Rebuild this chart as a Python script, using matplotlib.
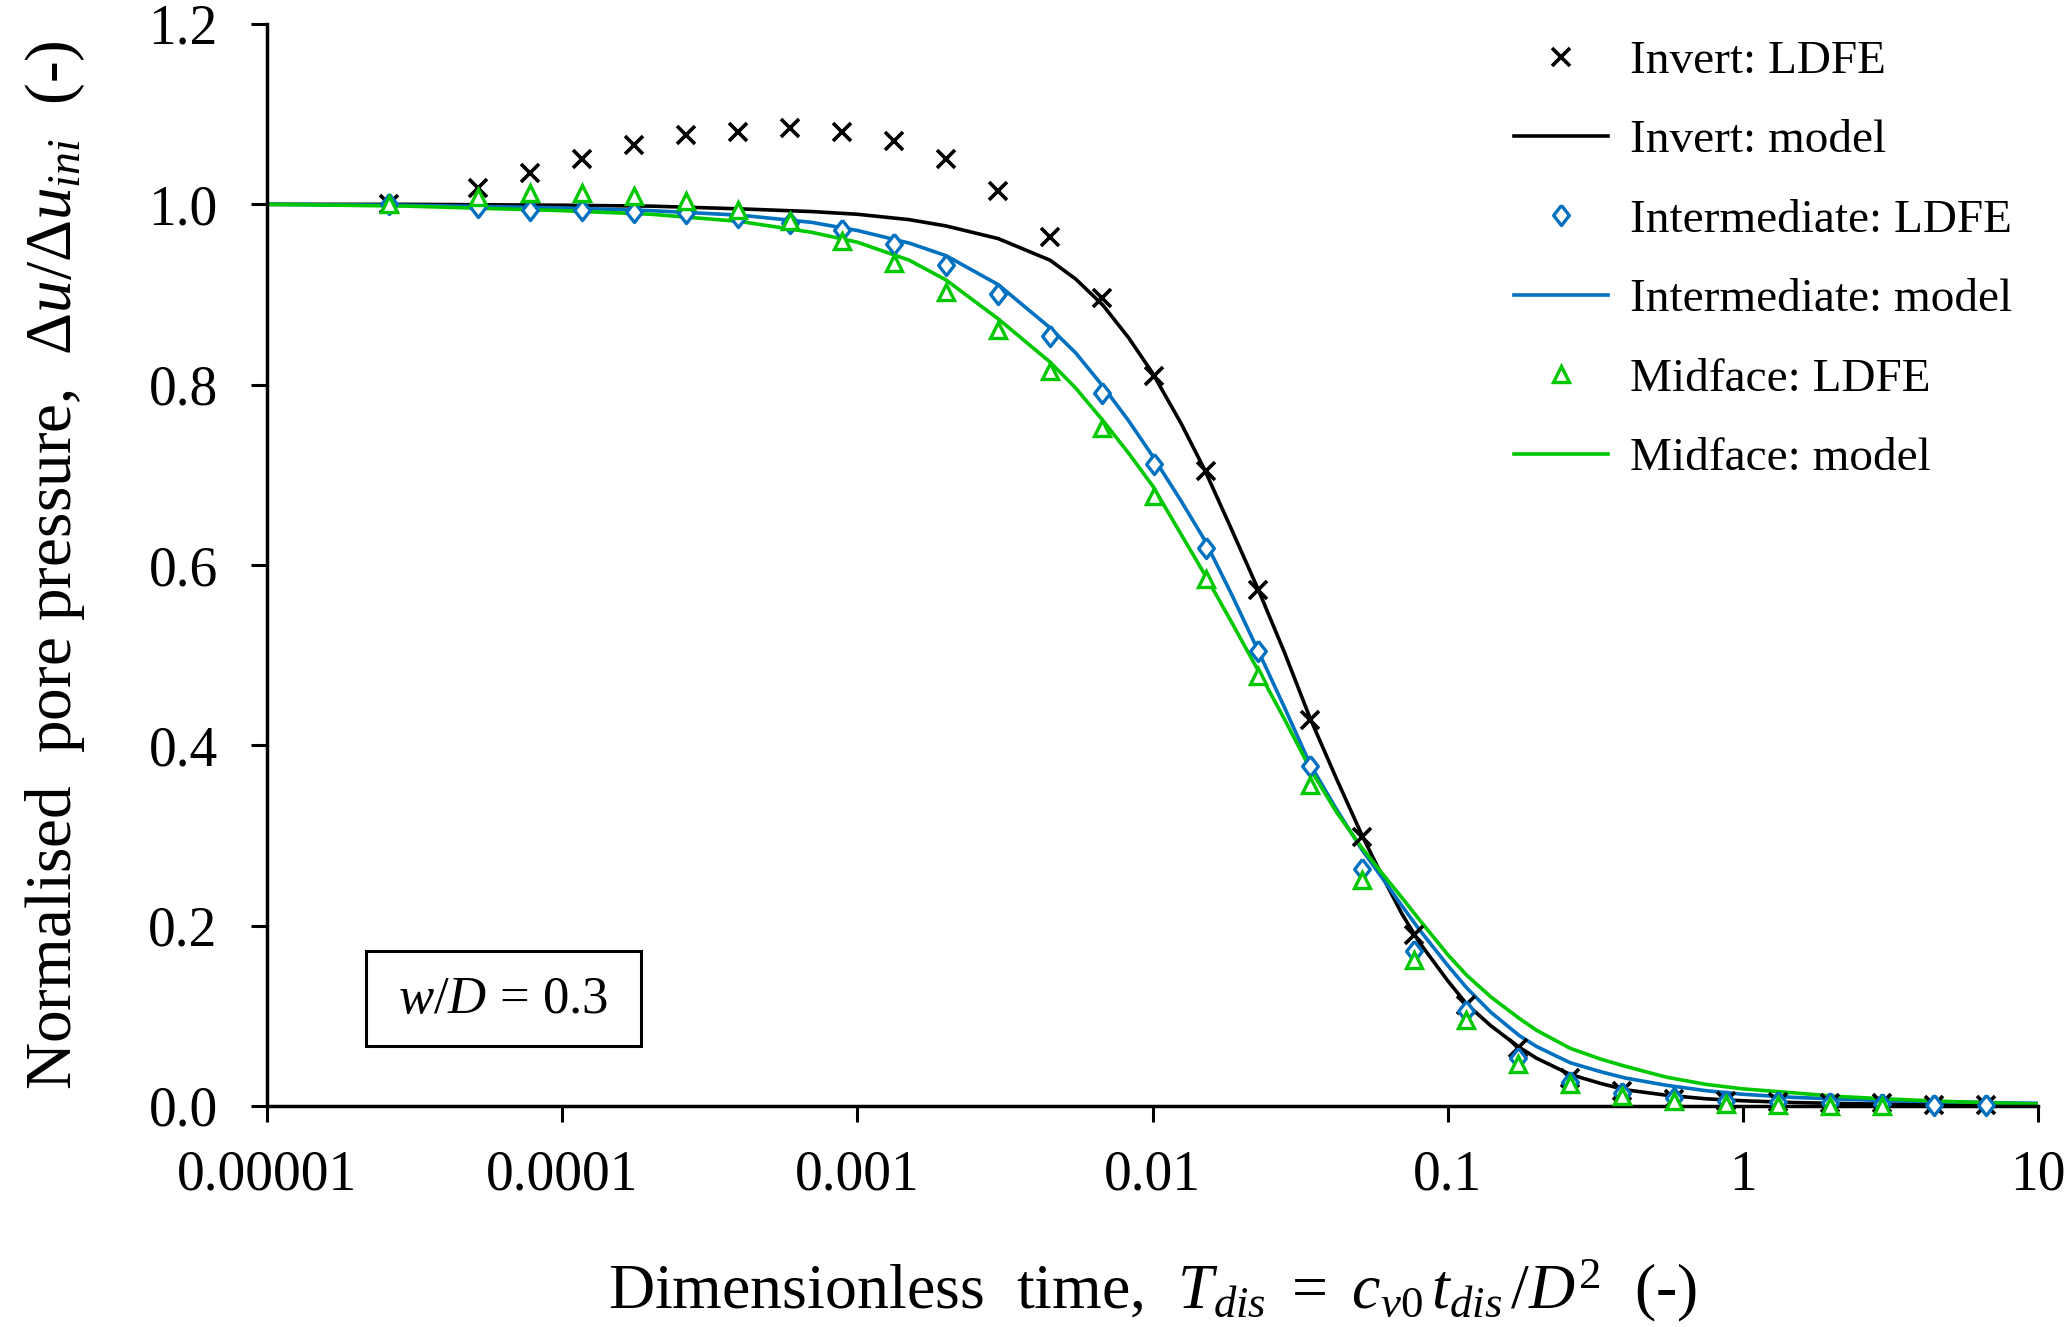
import matplotlib
matplotlib.use('Agg')
import matplotlib.pyplot as plt
from matplotlib.patches import Rectangle

plt.rcParams['font.family'] = ['Liberation Serif', 'DejaVu Serif']
plt.rcParams['mathtext.fontset'] = 'custom'
plt.rcParams['mathtext.rm'] = 'Liberation Serif'
plt.rcParams['mathtext.it'] = 'Liberation Serif:italic'

# LDFE results (dimensionless time, normalised excess pore pressure)
T_ldfe = [2.6e-5, 5.2e-5, 7.8e-5, 1.17e-4, 1.75e-4, 2.63e-4, 3.95e-4, 5.92e-4, 8.9e-4,
          1.33e-3, 2.0e-3, 3.0e-3, 4.5e-3, 6.75e-3, 0.0101, 0.0152, 0.0228, 0.0342,
          0.0513, 0.077, 0.1155, 0.173, 0.26, 0.39, 0.585, 0.877, 1.32, 1.97, 2.96,
          4.44, 6.66]
invert_ldfe = [1.000, 1.018, 1.035, 1.050, 1.066, 1.077, 1.080, 1.085, 1.080, 1.070,
               1.050, 1.015, 0.964, 0.896, 0.810, 0.704, 0.572, 0.428, 0.298, 0.190,
               0.112, 0.064, 0.031, 0.017, 0.008, 0.005, 0.004, 0.003, 0.003, 0.001,
               0.001]
inter_ldfe = [1.000, 0.997, 0.994, 0.994, 0.991, 0.990, 0.986, 0.979, 0.971, 0.956,
              0.933, 0.901, 0.854, 0.791, 0.712, 0.619, 0.505, 0.377, 0.263, 0.172,
              0.105, 0.053, 0.027, 0.014, 0.0085, 0.006, 0.0045, 0.003, 0.002, 0.001,
              0.001]
mid_ldfe = [1.000, 1.008, 1.013, 1.013, 1.009, 1.004, 0.994, 0.982, 0.959, 0.935,
            0.903, 0.861, 0.815, 0.752, 0.677, 0.584, 0.477, 0.356, 0.251, 0.162,
            0.095, 0.047, 0.024, 0.011, 0.005, 0.002, 0.001, 0.0, 0.0]

# model curves
T_model = [1e-5, 3e-5, 1e-4, 2e-4, 4e-4, 7e-4, 1e-3, 1.5e-3, 2e-3, 3e-3, 4.5e-3, 5.5e-3,
           6.8e-3, 8.3e-3, 0.01, 0.0125, 0.015, 0.0185, 0.0228, 0.028, 0.0342, 0.042,
           0.0513, 0.06, 0.07, 0.08, 0.1, 0.116, 0.14, 0.175, 0.2, 0.26, 0.33, 0.4,
           0.55, 0.75, 1.0, 1.5, 2.0, 3.0, 5.0, 7.0, 10.0]
invert_model = [1.000, 1.000, 0.999, 0.998, 0.995, 0.992, 0.989, 0.983, 0.976, 0.962,
                0.938, 0.917, 0.888, 0.852, 0.813, 0.757, 0.706, 0.640, 0.573, 0.503,
                0.430, 0.363, 0.300, 0.255, 0.213, 0.182, 0.139, 0.113, 0.089, 0.065,
                0.053, 0.035, 0.025, 0.018, 0.012, 0.008, 0.0058, 0.0038, 0.003, 0.002,
                0.0015, 0.0012, 0.001]
inter_model = [1.000, 0.999, 0.996, 0.993, 0.988, 0.980, 0.971, 0.957, 0.943, 0.911,
               0.863, 0.835, 0.798, 0.760, 0.721, 0.671, 0.628, 0.568, 0.505, 0.442,
               0.379, 0.329, 0.284, 0.253, 0.222, 0.196, 0.156, 0.131, 0.104, 0.078,
               0.066, 0.048, 0.038, 0.031, 0.023, 0.017, 0.013, 0.0095, 0.008, 0.006,
               0.0045, 0.0037, 0.003]
mid_model = [1.000, 0.998, 0.993, 0.989, 0.981, 0.969, 0.958, 0.938, 0.916, 0.873,
             0.825, 0.796, 0.760, 0.724, 0.688, 0.634, 0.590, 0.537, 0.483, 0.429,
             0.374, 0.326, 0.286, 0.258, 0.231, 0.207, 0.168, 0.145, 0.121, 0.097,
             0.084, 0.064, 0.052, 0.044, 0.032, 0.024, 0.019, 0.0145, 0.011, 0.008,
             0.005, 0.0035, 0.0022]

x_ticks = [1e-5, 1e-4, 1e-3, 1e-2, 1e-1, 1, 10]
x_labels = ['0.00001', '0.0001', '0.001', '0.01', '0.1', '1', '10']
y_ticks = [0.0, 0.2, 0.4, 0.6, 0.8, 1.0, 1.2]

BLUE = '#0070C0'
GREEN = '#00C800'
# slightly squat diamond for the intermediate series
DIAMOND = [(0, 1), (0.78, 0), (0, -1), (-0.78, 0), (0, 1)]

W, H = 2065, 1327
fig = plt.figure(figsize=(W / 100, H / 100), dpi=100)
ax = fig.add_axes([267 / W, 1 - 1106 / H, (2038 - 267) / W, (1106 - 24) / H])

ax.plot(T_ldfe, invert_ldfe, 'x', color='black', ms=12.5, mew=2.6, clip_on=False,
        zorder=3, label='Invert: LDFE')
ax.plot(T_model, invert_model, '-', color='black', lw=2.6, zorder=2, label='Invert: model')
ax.plot(T_ldfe, inter_ldfe, marker=DIAMOND, ls='none', color=BLUE, mfc='white', ms=14.5,
        mew=2.4, clip_on=False, zorder=3, label='Intermediate: LDFE')
ax.plot(T_model, inter_model, '-', color=BLUE, lw=2.6, zorder=2, label='Intermediate: model')
ax.plot(T_ldfe[:len(mid_ldfe)], mid_ldfe, '^', color=GREEN, mfc='white', ms=12, mew=2.4,
        clip_on=False, zorder=3, label='Midface: LDFE')
ax.plot(T_model, mid_model, '-', color=GREEN, lw=2.6, zorder=2, label='Midface: model')

ax.set_xscale('log')
ax.set_xlim(1e-5, 10)
ax.set_ylim(0, 1.2)
ax.set_xticks(x_ticks)
ax.set_xticklabels(x_labels)
ax.minorticks_off()
ax.set_yticks(y_ticks)
ax.set_yticklabels(['%.1f' % v for v in y_ticks])

for side in ['top', 'right']:
    ax.spines[side].set_visible(False)
for side in ['left', 'bottom']:
    ax.spines[side].set_linewidth(2.5)
ax.tick_params(axis='both', direction='out', length=11.5, width=2.2, labelsize=40)
ax.tick_params(axis='y', pad=24)
ax.tick_params(axis='x', pad=20)

ax.set_xlabel(r'Dimensionless  time,  $T_{dis}\ =\ c_{v0}\,t_{dis}\,/D^{2}$  (-)',
              fontsize=46, labelpad=40)
ax.set_ylabel(r'Normalised  pore pressure,  $\mathit{\Delta u/\Delta u_{ini}}$  (-)',
              fontsize=47, labelpad=44)

# w/D annotation box
fig.patches.append(Rectangle((366 / W, 1 - 1046 / H), 275 / W, 95 / H,
                             transform=fig.transFigure, fill=False, lw=2.2,
                             edgecolor='black'))
fig.text(503 / W, 1 - 1000 / H, r'$w/D$ = 0.3', fontsize=38, ha='center', va='center')

ax.legend(loc='upper left', bbox_to_anchor=(1514 / W, 1 - 40 / H),
          bbox_transform=fig.transFigure, frameon=False, fontsize=34,
          handlelength=2.0, handletextpad=0.45, labelspacing=0.77,
          borderpad=0, borderaxespad=0)

fig.savefig('out.png', dpi=100)
